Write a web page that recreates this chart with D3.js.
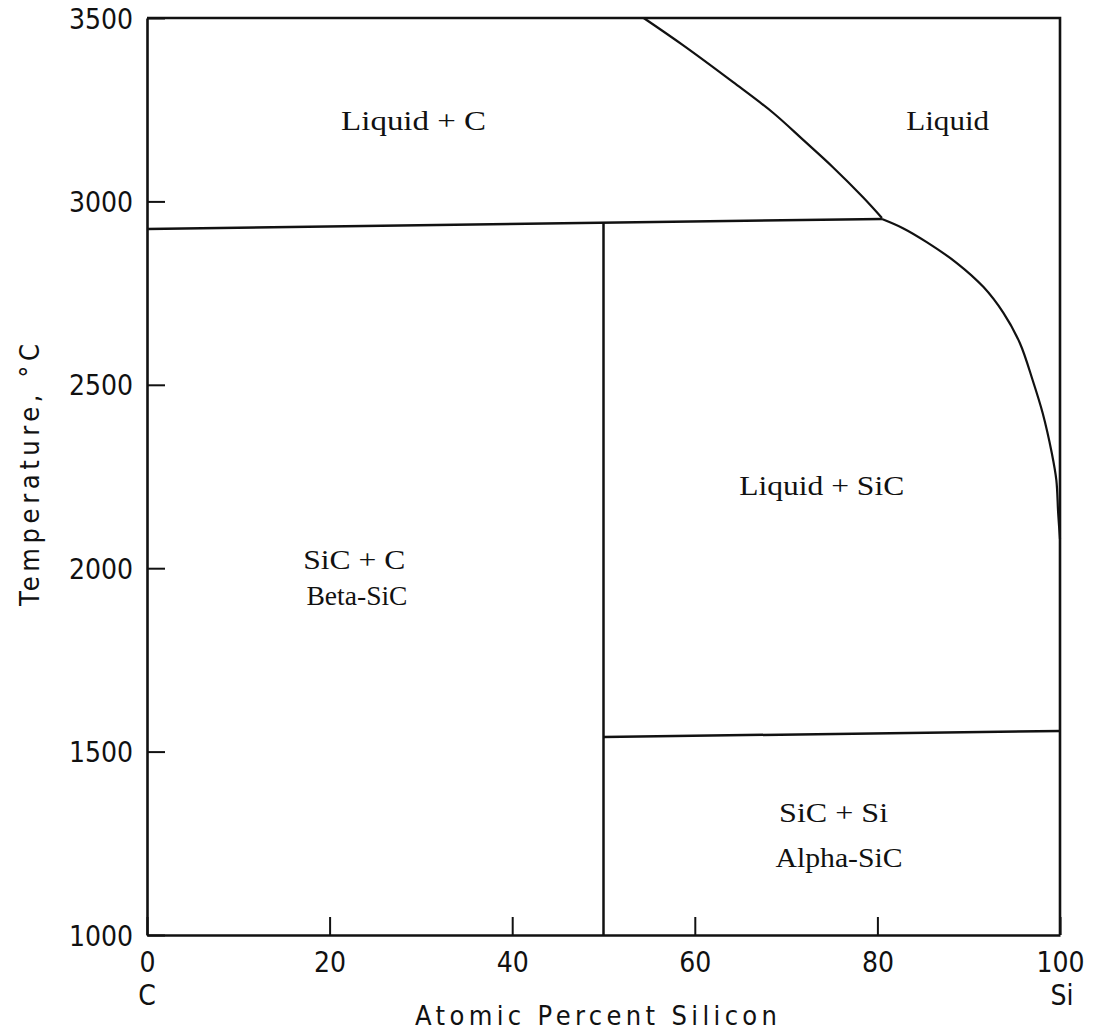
<!DOCTYPE html>
<html lang="en">
<head>
  <meta charset="UTF-8">
  <title>Si-C phase diagram</title>
  <script src="https://cdn.jsdelivr.net/npm/d3@7"></script>
  <style>
    body { margin: 0; background: #fff; }
  </style>
</head>
<body>
  <svg width="1095" height="1034"></svg>
  <script>
    // axis ticks
    var xTicks = [0, 20, 40, 60, 80, 100];
    var yTicks = [1000, 1500, 2000, 2500, 3000, 3500];

    // phase boundaries, [atomic % Si, temperature C]
    var peritecticLine = [[0, 2925], [80.5, 2952]];
    var sicLine = [[50, 2942], [50, 1000]];
    var eutecticLine = [[50, 1540], [100, 1556]];
    var liquidusUpper = [[54.4, 3500], [58.7, 3426], [64.2, 3325], [68.6, 3241],
      [71.9, 3167], [75.1, 3094], [78.4, 3012], [80.5, 2955]];
    var liquidusLower = [[80.5, 2952], [82.8, 2927], [85.4, 2889], [88.7, 2832],
      [91.6, 2767], [93.8, 2696], [95.6, 2614], [97.0, 2513], [98.1, 2423],
      [99.1, 2314], [99.6, 2240], [99.8, 2150], [100, 2080]];

    // region labels
    var labelText = ['Liquid + C', 'Liquid', 'Liquid + SiC', 'SiC + C', 'Beta-SiC', 'SiC + Si', 'Alpha-SiC'];
    var labelX = [29.2, 87.7, 73.9, 22.7, 23.0, 75.2, 75.8];
    var labelT = [3195, 3195, 2200, 1998, 1900, 1308, 1185];
    var labelWidth = [145, 83, 165, 102, 101, 109, 127];

    var svg = d3.select('svg');
    var x = d3.scaleLinear().domain([0, 100]).range([147, 1060]);
    var y = d3.scaleLinear().domain([1000, 3500]).range([935, 18]);

    var sans = '"DejaVu Sans Condensed", "DejaVu Sans", sans-serif';

    var line = d3.line()
      .x(function(d) { return x(d[0]); })
      .y(function(d) { return y(d[1]); });
    var curve = d3.line()
      .x(function(d) { return x(d[0]); })
      .y(function(d) { return y(d[1]); })
      .curve(d3.curveCatmullRom.alpha(0.5));

    // axes with inward ticks
    var yAxis = svg.append('g')
      .attr('transform', 'translate(' + x(0) + ',0)')
      .call(d3.axisLeft(y).tickValues(yTicks).tickSizeInner(-18).tickSizeOuter(0).tickPadding(14).tickFormat(d3.format('d')));
    var xAxis = svg.append('g')
      .attr('transform', 'translate(0,' + y(1000) + ')')
      .call(d3.axisBottom(x).tickValues(xTicks).tickSizeInner(-18).tickSizeOuter(0).tickPadding(12).tickFormat(d3.format('d')));

    [xAxis, yAxis].forEach(function(ax) {
      ax.select('.domain').attr('stroke', '#111').attr('stroke-width', 2.6);
      ax.selectAll('.tick line').attr('stroke', '#111').attr('stroke-width', 2);
      ax.selectAll('.tick text')
        .attr('fill', '#111')
        .style('font-family', sans)
        .style('font-size', '28px');
    });
    yAxis.selectAll('.tick text').attr('dy', '0.36em');
    xAxis.selectAll('.tick text').attr('dy', '0.9em');

    // top and right frame
    svg.append('path')
      .attr('d', line([[0, 3500], [100, 3500], [100, 1000]]))
      .attr('fill', 'none')
      .attr('stroke', '#111')
      .attr('stroke-width', 2.6);

    // element names under the ends
    svg.append('text')
      .attr('x', x(0)).attr('y', 1005)
      .attr('text-anchor', 'middle')
      .style('font-family', sans).style('font-size', '28px')
      .attr('fill', '#111')
      .text('C');
    svg.append('text')
      .attr('x', x(100) + 2).attr('y', 1005)
      .attr('text-anchor', 'middle')
      .style('font-family', sans).style('font-size', '28px')
      .attr('fill', '#111')
      .text('Si');

    // phase lines
    [peritecticLine, sicLine, eutecticLine].forEach(function(d) {
      svg.append('path')
        .attr('d', line(d))
        .attr('fill', 'none')
        .attr('stroke', '#111')
        .attr('stroke-width', 2.5);
    });
    [liquidusUpper, liquidusLower].forEach(function(d) {
      svg.append('path')
        .attr('d', curve(d))
        .attr('fill', 'none')
        .attr('stroke', '#111')
        .attr('stroke-width', 2.2)
        .attr('stroke-linejoin', 'round');
    });

    // region labels
    svg.selectAll('.region')
      .data(labelText)
      .enter().append('text')
      .attr('class', 'region')
      .attr('x', function(d, i) { return x(labelX[i]); })
      .attr('y', function(d, i) { return y(labelT[i]); })
      .attr('text-anchor', 'middle')
      .attr('textLength', function(d, i) { return labelWidth[i]; })
      .attr('lengthAdjust', 'spacingAndGlyphs')
      .style('font-family', '"Liberation Serif", "Times New Roman", serif')
      .style('font-size', '28px')
      .attr('fill', '#111')
      .text(function(d) { return d; });

    // axis titles
    svg.append('text')
      .attr('x', 596).attr('y', 1025)
      .attr('text-anchor', 'middle')
      .attr('textLength', 362)
      .attr('lengthAdjust', 'spacing')
      .style('font-family', sans).style('font-size', '27px')
      .attr('fill', '#111')
      .text('Atomic Percent Silicon');
    svg.append('text')
      .attr('transform', 'translate(39,475) rotate(-90)')
      .attr('text-anchor', 'middle')
      .attr('textLength', 262)
      .attr('lengthAdjust', 'spacing')
      .style('font-family', sans).style('font-size', '27px')
      .attr('fill', '#111')
      .text('Temperature, \u00B0C');
  </script>
</body>
</html>
